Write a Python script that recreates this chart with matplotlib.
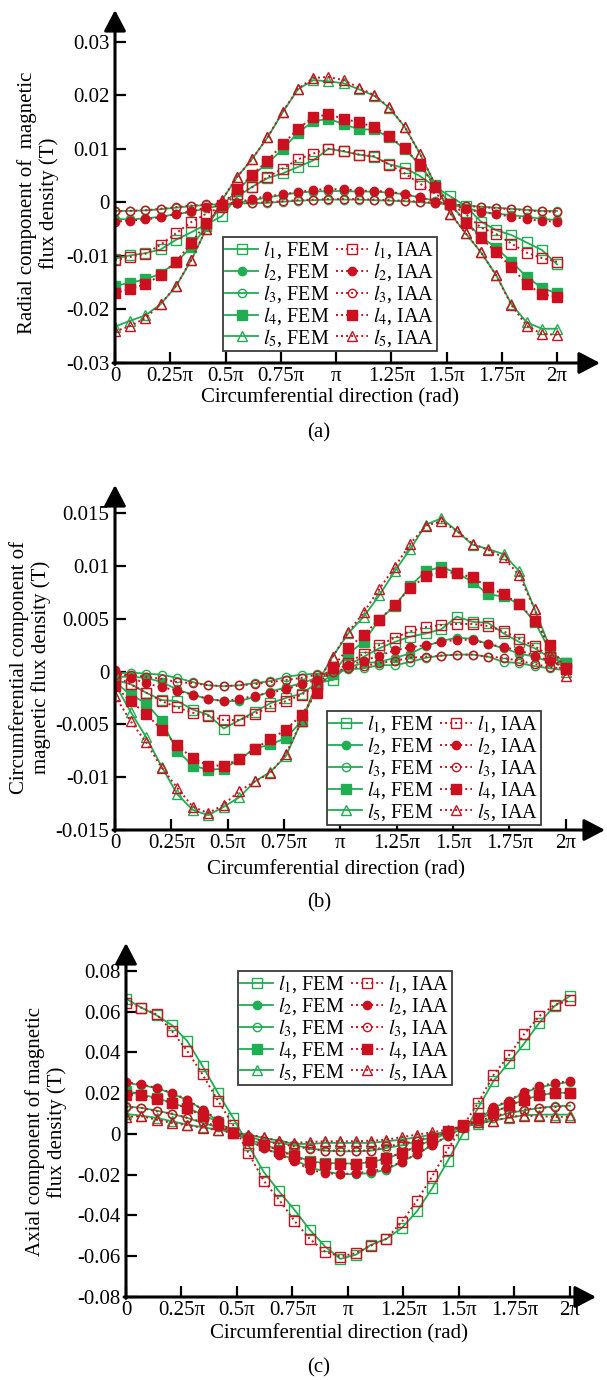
import numpy as np
import matplotlib
matplotlib.use('Agg')
import matplotlib.pyplot as plt

plt.rcParams['font.family'] = ['Liberation Serif', 'DejaVu Serif']
plt.rcParams['mathtext.fontset'] = 'stix'
plt.rcParams['axes.unicode_minus'] = False

# sample positions along the circumference (30 points over one turn)
theta = np.linspace(0, 2 * np.pi, 30)

xtick_vals = [0, 0.25, 0.5, 0.75, 1, 1.25, 1.5, 1.75, 2]
xtick_labels = ['0', '0.25π', '0.5π', '0.75π', 'π', '1.25π', '1.5π', '1.75π', '2π']

# (a) radial component
a_fem_l1 = [-0.0105, -0.0099, -0.0095, -0.0088, -0.0070, -0.0056, -0.0041, -0.0026, 0.0010, 0.0029,
            0.0045, 0.0054, 0.0066, 0.0078, 0.0100, 0.0095, 0.0089, 0.0085, 0.0071, 0.0064,
            0.0049, 0.0029, 0.0011, -0.0007, -0.0036, -0.0052, -0.0061, -0.0075, -0.0089, -0.0116]
a_iaa_l1 = [-0.0108, -0.0102, -0.0096, -0.0079, -0.0058, -0.0037, -0.0021, -0.0008, 0.0015, 0.0028,
            0.0047, 0.0063, 0.0080, 0.0091, 0.0100, 0.0096, 0.0089, 0.0086, 0.0070, 0.0054,
            0.0035, 0.0016, -0.0003, -0.0022, -0.0047, -0.0059, -0.0077, -0.0094, -0.0104, -0.0111]
a_fem_l2 = [-0.0031, -0.0032, -0.0030, -0.0027, -0.0022, -0.0018, -0.0011, -0.0006, -0.0002, 0.0004,
            0.0009, 0.0014, 0.0018, 0.0020, 0.0021, 0.0021, 0.0020, 0.0020, 0.0018, 0.0015,
            0.0009, 0.0003, -0.0005, -0.0010, -0.0018, -0.0021, -0.0024, -0.0027, -0.0031, -0.0033]
a_iaa_l2 = [-0.0036, -0.0034, -0.0032, -0.0028, -0.0022, -0.0017, -0.0009, -0.0005, -0.0001, 0.0007,
            0.0011, 0.0015, 0.0019, 0.0023, 0.0025, 0.0024, 0.0022, 0.0021, 0.0020, 0.0015,
            0.0009, 0.0001, -0.0004, -0.0013, -0.0018, -0.0022, -0.0027, -0.0031, -0.0035, -0.0036]
a_fem_l3 = [-0.0016, -0.0016, -0.0015, -0.0013, -0.0010, -0.0007, -0.0005, -0.0003, -0.0002, -0.0002,
            -0.0001, 0.0001, 0.0003, 0.0004, 0.0005, 0.0005, 0.0005, 0.0004, 0.0003, 0.0002,
            0.0000, -0.0002, -0.0004, -0.0006, -0.0008, -0.0010, -0.0012, -0.0014, -0.0016, -0.0016]
a_iaa_l3 = [-0.0017, -0.0016, -0.0015, -0.0012, -0.0009, -0.0006, -0.0004, -0.0002, -0.0001, -0.0001,
            0.0000, 0.0002, 0.0004, 0.0005, 0.0006, 0.0006, 0.0006, 0.0005, 0.0004, 0.0003,
            0.0001, -0.0001, -0.0003, -0.0006, -0.0009, -0.0011, -0.0013, -0.0015, -0.0017, -0.0018]
a_fem_l4 = [-0.0156, -0.0150, -0.0144, -0.0133, -0.0112, -0.0084, -0.0044, -0.0006, 0.0021, 0.0050,
            0.0073, 0.0099, 0.0130, 0.0151, 0.0156, 0.0146, 0.0136, 0.0136, 0.0121, 0.0100,
            0.0070, 0.0032, -0.0004, -0.0036, -0.0064, -0.0085, -0.0111, -0.0139, -0.0160, -0.0170]
a_iaa_l4 = [-0.0170, -0.0161, -0.0153, -0.0136, -0.0111, -0.0076, -0.0038, -0.0005, 0.0024, 0.0051,
            0.0078, 0.0108, 0.0137, 0.0159, 0.0164, 0.0156, 0.0149, 0.0141, 0.0123, 0.0101,
            0.0070, 0.0029, -0.0003, -0.0038, -0.0066, -0.0093, -0.0121, -0.0152, -0.0172, -0.0176]
a_fem_l5 = [-0.0232, -0.0221, -0.0211, -0.0190, -0.0157, -0.0108, -0.0049, 0.0003, 0.0047, 0.0081,
            0.0121, 0.0168, 0.0211, 0.0228, 0.0226, 0.0222, 0.0211, 0.0199, 0.0176, 0.0141,
            0.0091, 0.0033, -0.0021, -0.0058, -0.0093, -0.0136, -0.0190, -0.0224, -0.0236, -0.0236]
a_iaa_l5 = [-0.0241, -0.0231, -0.0216, -0.0190, -0.0156, -0.0108, -0.0049, 0.0004, 0.0047, 0.0081,
            0.0121, 0.0169, 0.0212, 0.0232, 0.0234, 0.0228, 0.0214, 0.0200, 0.0177, 0.0141,
            0.0091, 0.0033, -0.0021, -0.0058, -0.0093, -0.0136, -0.0192, -0.0230, -0.0246, -0.0247]

# (b) circumferential component
b_fem_l1 = [-0.0008, -0.0012, -0.0020, -0.0027, -0.0028, -0.0036, -0.0041, -0.0054, -0.0046, -0.0038,
            -0.0030, -0.0025, -0.0021, -0.0011, -0.0008, 0.0006, 0.0014, 0.0022, 0.0028, 0.0033,
            0.0036, 0.0040, 0.0052, 0.0047, 0.0046, 0.0036, 0.0028, 0.0022, 0.0013, 0.0008]
b_iaa_l1 = [-0.0004, -0.0012, -0.0020, -0.0028, -0.0034, -0.0039, -0.0042, -0.0046, -0.0046, -0.0040,
            -0.0033, -0.0028, -0.0022, -0.0013, 0.0003, 0.0008, 0.0017, 0.0025, 0.0032, 0.0038,
            0.0042, 0.0044, 0.0045, 0.0045, 0.0043, 0.0038, 0.0031, 0.0024, 0.0014, 0.0003]
b_fem_l2 = [-0.0005, -0.0005, -0.0006, -0.0010, -0.0017, -0.0022, -0.0026, -0.0028, -0.0028, -0.0024,
            -0.0019, -0.0015, -0.0011, -0.0006, -0.0003, 0.0004, 0.0008, 0.0009, 0.0013, 0.0017,
            0.0024, 0.0029, 0.0032, 0.0031, 0.0026, 0.0022, 0.0017, 0.0014, 0.0009, 0.0005]
b_iaa_l2 = [0.0001, -0.0006, -0.0011, -0.0015, -0.0018, -0.0022, -0.0026, -0.0028, -0.0026, -0.0023,
            -0.0020, -0.0017, -0.0012, -0.0008, 0.0002, 0.0006, 0.0010, 0.0015, 0.0020, 0.0023,
            0.0025, 0.0028, 0.0030, 0.0030, 0.0026, 0.0023, 0.0020, 0.0015, 0.0010, 0.0003]
b_fem_l3 = [-0.0002, -0.0001, -0.0002, -0.0003, -0.0006, -0.0010, -0.0013, -0.0014, -0.0013, -0.0011,
            -0.0009, -0.0005, -0.0003, -0.0002, -0.0002, 0.0002, 0.0003, 0.0006, 0.0006, 0.0009,
            0.0013, 0.0015, 0.0016, 0.0016, 0.0014, 0.0009, 0.0008, 0.0005, 0.0003, 0.0001]
b_iaa_l3 = [-0.0003, -0.0003, -0.0005, -0.0007, -0.0010, -0.0011, -0.0013, -0.0014, -0.0013, -0.0012,
            -0.0010, -0.0008, -0.0006, -0.0003, 0.0000, 0.0003, 0.0005, 0.0008, 0.0010, 0.0013,
            0.0014, 0.0015, 0.0016, 0.0016, 0.0014, 0.0013, 0.0010, 0.0007, 0.0004, 0.0002]
b_fem_l4 = [-0.0010, -0.0022, -0.0030, -0.0047, -0.0075, -0.0089, -0.0093, -0.0092, -0.0083, -0.0073,
            -0.0069, -0.0063, -0.0047, -0.0014, -0.0002, 0.0017, 0.0028, 0.0049, 0.0062, 0.0081,
            0.0095, 0.0099, 0.0093, 0.0085, 0.0073, 0.0071, 0.0064, 0.0047, 0.0019, 0.0008]
b_iaa_l4 = [-0.0014, -0.0028, -0.0040, -0.0055, -0.0070, -0.0082, -0.0089, -0.0089, -0.0083, -0.0073,
            -0.0064, -0.0055, -0.0041, -0.0020, 0.0004, 0.0022, 0.0035, 0.0049, 0.0063, 0.0079,
            0.0090, 0.0094, 0.0093, 0.0089, 0.0080, 0.0073, 0.0064, 0.0048, 0.0025, 0.0002]
b_fem_l5 = [-0.0012, -0.0038, -0.0062, -0.0090, -0.0116, -0.0131, -0.0136, -0.0128, -0.0119, -0.0104,
            -0.0095, -0.0080, -0.0047, -0.0011, 0.0014, 0.0036, 0.0052, 0.0072, 0.0095, 0.0116,
            0.0139, 0.0145, 0.0133, 0.0120, 0.0116, 0.0111, 0.0095, 0.0059, 0.0022, 0.0000]
b_iaa_l5 = [-0.0023, -0.0047, -0.0067, -0.0091, -0.0110, -0.0128, -0.0134, -0.0126, -0.0113, -0.0104,
            -0.0096, -0.0078, -0.0047, -0.0012, 0.0014, 0.0037, 0.0056, 0.0078, 0.0099, 0.0121,
            0.0138, 0.0142, 0.0133, 0.0121, 0.0115, 0.0108, 0.0091, 0.0059, 0.0016, -0.0004]

# (c) axial component
c_fem_l1 = [0.0664, 0.0620, 0.0582, 0.0534, 0.0456, 0.0333, 0.0202, 0.0079, -0.0056, -0.0187,
            -0.0282, -0.0372, -0.0470, -0.0552, -0.0613, -0.0593, -0.0544, -0.0515, -0.0462, -0.0380,
            -0.0266, -0.0134, 0.0000, 0.0128, 0.0259, 0.0349, 0.0443, 0.0546, 0.0628, 0.0677]
c_iaa_l1 = [0.0644, 0.0620, 0.0587, 0.0505, 0.0407, 0.0292, 0.0164, 0.0043, -0.0093, -0.0230,
            -0.0323, -0.0426, -0.0515, -0.0577, -0.0602, -0.0585, -0.0548, -0.0515, -0.0433, -0.0328,
            -0.0208, -0.0077, 0.0038, 0.0152, 0.0289, 0.0385, 0.0489, 0.0579, 0.0633, 0.0656]
c_fem_l2 = [0.0251, 0.0239, 0.0226, 0.0198, 0.0166, 0.0120, 0.0062, 0.0008, -0.0033, -0.0069,
            -0.0098, -0.0126, -0.0164, -0.0184, -0.0197, -0.0197, -0.0192, -0.0175, -0.0138, -0.0098,
            -0.0056, -0.0011, 0.0030, 0.0070, 0.0128, 0.0161, 0.0202, 0.0230, 0.0243, 0.0256]
c_iaa_l2 = [0.0254, 0.0243, 0.0226, 0.0202, 0.0169, 0.0120, 0.0070, 0.0008, -0.0028, -0.0069,
            -0.0102, -0.0134, -0.0175, -0.0192, -0.0197, -0.0192, -0.0184, -0.0167, -0.0138, -0.0098,
            -0.0052, -0.0011, 0.0030, 0.0079, 0.0131, 0.0164, 0.0207, 0.0234, 0.0251, 0.0259]
c_fem_l3 = [0.0136, 0.0128, 0.0115, 0.0098, 0.0079, 0.0054, 0.0034, 0.0005, -0.0011, -0.0036,
            -0.0044, -0.0056, -0.0069, -0.0082, -0.0085, -0.0085, -0.0082, -0.0069, -0.0056, -0.0036,
            -0.0016, 0.0010, 0.0033, 0.0054, 0.0079, 0.0103, 0.0115, 0.0128, 0.0136, 0.0139]
c_iaa_l3 = [0.0131, 0.0128, 0.0111, 0.0100, 0.0079, 0.0059, 0.0038, 0.0005, -0.0016, -0.0036,
            -0.0048, -0.0061, -0.0072, -0.0082, -0.0082, -0.0082, -0.0082, -0.0061, -0.0049, -0.0033,
            -0.0008, 0.0013, 0.0038, 0.0062, 0.0087, 0.0103, 0.0120, 0.0128, 0.0131, 0.0136]
c_fem_l4 = [0.0210, 0.0193, 0.0177, 0.0152, 0.0128, 0.0095, 0.0059, 0.0008, -0.0028, -0.0049,
            -0.0080, -0.0105, -0.0134, -0.0143, -0.0143, -0.0146, -0.0138, -0.0121, -0.0093, -0.0061,
            -0.0028, 0.0005, 0.0038, 0.0070, 0.0107, 0.0136, 0.0169, 0.0189, 0.0202, 0.0202]
c_iaa_l4 = [0.0193, 0.0189, 0.0172, 0.0152, 0.0128, 0.0087, 0.0049, 0.0005, -0.0028, -0.0052,
            -0.0082, -0.0110, -0.0138, -0.0146, -0.0146, -0.0146, -0.0136, -0.0118, -0.0093, -0.0061,
            -0.0025, 0.0013, 0.0046, 0.0079, 0.0103, 0.0141, 0.0169, 0.0190, 0.0202, 0.0202]
c_fem_l5 = [0.0098, 0.0090, 0.0079, 0.0062, 0.0046, 0.0033, 0.0021, 0.0008, -0.0003, -0.0020,
            -0.0033, -0.0049, -0.0049, -0.0044, -0.0044, -0.0044, -0.0044, -0.0036, -0.0028, -0.0016,
            -0.0003, 0.0013, 0.0033, 0.0051, 0.0066, 0.0079, 0.0092, 0.0095, 0.0095, 0.0095]
c_iaa_l5 = [0.0084, 0.0087, 0.0070, 0.0054, 0.0043, 0.0030, 0.0018, 0.0005, -0.0003, -0.0016,
            -0.0036, -0.0044, -0.0039, -0.0036, -0.0036, -0.0036, -0.0033, -0.0028, -0.0016, -0.0003,
            0.0008, 0.0021, 0.0038, 0.0057, 0.0062, 0.0084, 0.0090, 0.0087, 0.0084, 0.0084]

a_yticks = [-0.03, -0.02, -0.01, 0, 0.01, 0.02, 0.03]
a_ylabels = ['-0.03', '-0.02', '-0.01', '0', '0.01', '0.02', '0.03']
b_yticks = [-0.015, -0.01, -0.005, 0, 0.005, 0.01, 0.015]
b_ylabels = ['-0.015', '-0.01', '-0.005', '0', '0.005', '0.01', '0.015']
c_yticks = [-0.08, -0.06, -0.04, -0.02, 0, 0.02, 0.04, 0.06, 0.08]
c_ylabels = ['-0.08', '-0.06', '-0.04', '-0.02', '0', '0.02', '0.04', '0.06', '0.08']

GREEN = '#1fae52'
RED = '#cc1020'
FS = 15
LEG_FS = 14.5

# marker, filled? for l1..l5
styles = [('s', False), ('o', True), ('o', False), ('s', True), ('^', False)]
sizes = [6.5, 6, 6, 6.5, 6.5]

W, H = 607, 1380
fig = plt.figure(figsize=(W / 100, H / 100), dpi=100)


def px_axes(left, right, top, bottom):
    return fig.add_axes([left / W, 1 - bottom / H, (right - left) / W, (bottom - top) / H])


def draw_panel(ax, fem, iaa, yticks, ylabels, ymin, ymax, xmax):
    fem_handles, iaa_handles = [], []
    for i, (m, filled) in enumerate(styles):
        h1, = ax.plot(theta, fem[i], color=GREEN, lw=1.3, ls='-', marker=m, ms=sizes[i],
                      mec=GREEN, mfc=GREEN if filled else 'none', mew=1.0,
                      label=r'$l_{%d}$, FEM' % (i + 1), zorder=3)
        fem_handles.append(h1)
    for i, (m, filled) in enumerate(styles):
        h2, = ax.plot(theta, iaa[i], color=RED, lw=1.4, ls=(0, (1, 1.6)), marker=m, ms=sizes[i],
                      mec=RED, mfc=RED if filled else 'none', mew=1.0,
                      label=r'$l_{%d}$, IAA' % (i + 1), zorder=3)
        iaa_handles.append(h2)

    ax.set_xlim(0, xmax)
    ax.set_ylim(ymin, ymax)
    ax.set_xticks([v * np.pi for v in xtick_vals])
    ax.set_xticklabels(xtick_labels, fontsize=FS)
    ax.set_yticks(yticks)
    ax.set_yticklabels(ylabels, fontsize=FS)
    ax.tick_params(direction='in', length=8, width=1.6, pad=4)
    ax.tick_params(axis='x', pad=3)
    for s in ax.spines.values():
        s.set_visible(False)
    ax.patch.set_alpha(0)

    # axes drawn as arrows
    arrow = dict(arrowstyle='-|>,head_length=0.8,head_width=0.42', lw=2.2, color='k',
                 mutation_scale=16, shrinkA=0, shrinkB=0)
    ax.annotate('', xy=(1, 0), xytext=(-0.004, 0), xycoords='axes fraction', arrowprops=arrow)
    ax.annotate('', xy=(0, 1), xytext=(0, -0.004), xycoords='axes fraction', arrowprops=arrow)
    return fem_handles + iaa_handles


def add_legend(handles, x, y):
    leg = fig.legend(handles=handles, loc='upper left', bbox_to_anchor=(x / W, 1 - y / H),
                     ncol=2, fontsize=LEG_FS, frameon=True, fancybox=False, framealpha=1,
                     edgecolor='#3a3a3a', handlelength=1.6, handletextpad=0.25,
                     columnspacing=0.35, labelspacing=0.0, borderpad=0.12, borderaxespad=0)
    leg.get_frame().set_linewidth(1.3)


# (a)
ax_a = px_axes(115, 600, 10, 363)
h = draw_panel(ax_a, [a_fem_l1, a_fem_l2, a_fem_l3, a_fem_l4, a_fem_l5],
               [a_iaa_l1, a_iaa_l2, a_iaa_l3, a_iaa_l4, a_iaa_l5],
               a_yticks, a_ylabels, -0.03, 0.0359, 2 * np.pi * 1.097)
add_legend(h, 223, 237)
fig.text(38 / W, 1 - 203 / H, 'Radial component of  magnetic\nflux density (T)', rotation=90,
         ha='center', va='center', fontsize=FS, linespacing=1.15, multialignment='center')
fig.text(330 / W, 1 - 398 / H, 'Circumferential direction (rad)', ha='center', va='center', fontsize=FS)
fig.text(319 / W, 1 - 433 / H, '(a)', ha='center', va='center', fontsize=FS)

# (b)
ax_b = px_axes(115, 605, 485, 830)
h = draw_panel(ax_b, [b_fem_l1, b_fem_l2, b_fem_l3, b_fem_l4, b_fem_l5],
               [b_iaa_l1, b_iaa_l2, b_iaa_l3, b_iaa_l4, b_iaa_l5],
               b_yticks, b_ylabels, -0.015, 0.01765, 2 * np.pi * 1.087)
add_legend(h, 327, 711)
fig.text(30 / W, 1 - 667 / H, 'Circumferential component of\nmagnetic flux density (T)', rotation=90,
         ha='center', va='center', fontsize=FS, linespacing=1.15, multialignment='center')
fig.text(336 / W, 1 - 870 / H, 'Circumferential direction (rad)', ha='center', va='center', fontsize=FS)
fig.text(319 / W, 1 - 903 / H, '(b)', ha='center', va='center', fontsize=FS)

# (c)
ax_c = px_axes(126, 596, 943, 1297)
h = draw_panel(ax_c, [c_fem_l1, c_fem_l2, c_fem_l3, c_fem_l4, c_fem_l5],
               [c_iaa_l1, c_iaa_l2, c_iaa_l3, c_iaa_l4, c_iaa_l5],
               c_yticks, c_ylabels, -0.08, 0.0937, 2 * np.pi * 1.0586)
add_legend(h, 238, 971)
fig.text(46 / W, 1 - 1132 / H, 'Axial component of magnetic\nflux density (T)', rotation=90,
         ha='center', va='center', fontsize=FS, linespacing=1.15, multialignment='center')
fig.text(339 / W, 1 - 1334 / H, 'Circumferential direction (rad)', ha='center', va='center', fontsize=FS)
fig.text(319 / W, 1 - 1368 / H, '(c)', ha='center', va='center', fontsize=FS)

plt.savefig('out.png', dpi=100)
